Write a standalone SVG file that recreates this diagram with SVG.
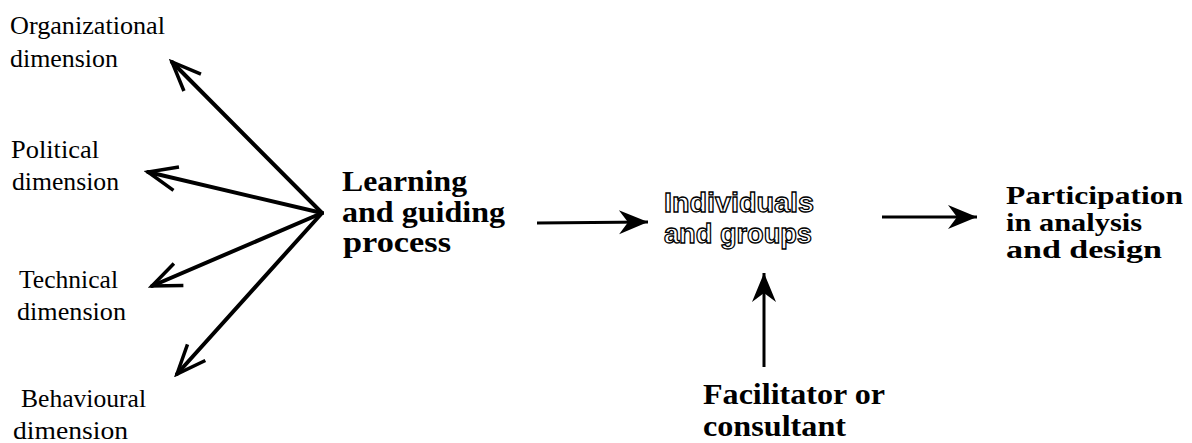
<svg xmlns="http://www.w3.org/2000/svg" width="1192" height="443" viewBox="0 0 1192 443">
<style>
.lbl{font-family:"Liberation Serif","Times New Roman",Times,serif;font-size:25px;fill:#000}
.big{font-family:"Liberation Serif","Times New Roman",Times,serif;font-size:29px;font-weight:bold;fill:#000}
.par{font-family:"Liberation Serif","Times New Roman",Times,serif;font-size:26px;font-weight:bold;fill:#000}
.fac{font-family:"Liberation Serif","Times New Roman",Times,serif;font-size:30px;font-weight:bold;fill:#000}
.out{font-family:"Liberation Sans",Arial,sans-serif;font-size:28px;font-weight:bold;fill:#fff;stroke:#000;stroke-width:1.3px}
.thick{stroke:#000;stroke-width:4;fill:none;stroke-linecap:round}
.thin{stroke:#000;stroke-width:3;fill:none}
</style>
<defs>
<marker id="vee" markerUnits="userSpaceOnUse" viewBox="-32 -16 36 32" refX="0" refY="0" markerWidth="36" markerHeight="32" orient="auto">
<path d="M-29,-12 L0,0 L-29,12" fill="none" stroke="#000" stroke-width="3.5" stroke-linejoin="miter"/>
</marker>
<marker id="stealth" markerUnits="userSpaceOnUse" viewBox="-32 -14 34 28" refX="0" refY="0" markerWidth="34" markerHeight="28" orient="auto">
<path d="M0,0 L-29,-12 L-20,0 L-29,12 Z" fill="#000"/>
</marker>
</defs>
<rect width="1192" height="443" fill="#fff"/>
<g id="connectors">
<line class="thick" x1="322" y1="213" x2="172" y2="62" marker-end="url(#vee)"/>
<line class="thick" x1="322" y1="213" x2="148" y2="172" marker-end="url(#vee)"/>
<line class="thick" x1="322" y1="213" x2="152" y2="286" marker-end="url(#vee)"/>
<line class="thick" x1="322" y1="213" x2="177" y2="374" marker-end="url(#vee)"/>
<line class="thin" x1="537" y1="223" x2="648" y2="222" marker-end="url(#stealth)"/>
<line class="thin" x1="882" y1="217" x2="977" y2="217" marker-end="url(#stealth)"/>
<line class="thin" x1="764" y1="367" x2="764" y2="273" marker-end="url(#stealth)"/>
</g>
<g id="organizational">
<text class="lbl" x="10" y="34" textLength="155" lengthAdjust="spacingAndGlyphs">Organizational</text>
<text class="lbl" x="10" y="67" textLength="108" lengthAdjust="spacingAndGlyphs">dimension</text>
</g>
<g id="political">
<text class="lbl" x="11" y="158" textLength="88" lengthAdjust="spacingAndGlyphs">Political</text>
<text class="lbl" x="12" y="190" textLength="107" lengthAdjust="spacingAndGlyphs">dimension</text>
</g>
<g id="technical">
<text class="lbl" x="19" y="288" textLength="99" lengthAdjust="spacingAndGlyphs">Technical</text>
<text class="lbl" x="17" y="320" textLength="109" lengthAdjust="spacingAndGlyphs">dimension</text>
</g>
<g id="behavioural">
<text class="lbl" x="21" y="407" textLength="125" lengthAdjust="spacingAndGlyphs">Behavioural</text>
<text class="lbl" x="13" y="439" textLength="115" lengthAdjust="spacingAndGlyphs">dimension</text>
</g>
<g id="learning">
<text class="big" x="342" y="191" textLength="125" lengthAdjust="spacingAndGlyphs">Learning</text>
<text class="big" x="342" y="222" textLength="163" lengthAdjust="spacingAndGlyphs">and guiding</text>
<text class="big" x="343" y="252" textLength="108" lengthAdjust="spacingAndGlyphs">process</text>
</g>
<g id="individuals">
<text class="out" x="664" y="212" textLength="150" lengthAdjust="spacingAndGlyphs">Individuals</text>
<text class="out" x="664" y="243" textLength="148" lengthAdjust="spacingAndGlyphs">and groups</text>
</g>
<g id="participation">
<text class="par" x="1006" y="204" textLength="177" lengthAdjust="spacingAndGlyphs">Participation</text>
<text class="par" x="1006" y="231" textLength="136" lengthAdjust="spacingAndGlyphs">in analysis</text>
<text class="par" x="1006" y="258" textLength="156" lengthAdjust="spacingAndGlyphs">and design</text>
</g>
<g id="facilitator">
<text class="fac" x="703" y="404" textLength="182" lengthAdjust="spacingAndGlyphs">Facilitator or</text>
<text class="fac" x="703" y="436" textLength="143" lengthAdjust="spacingAndGlyphs">consultant</text>
</g>
</svg>
